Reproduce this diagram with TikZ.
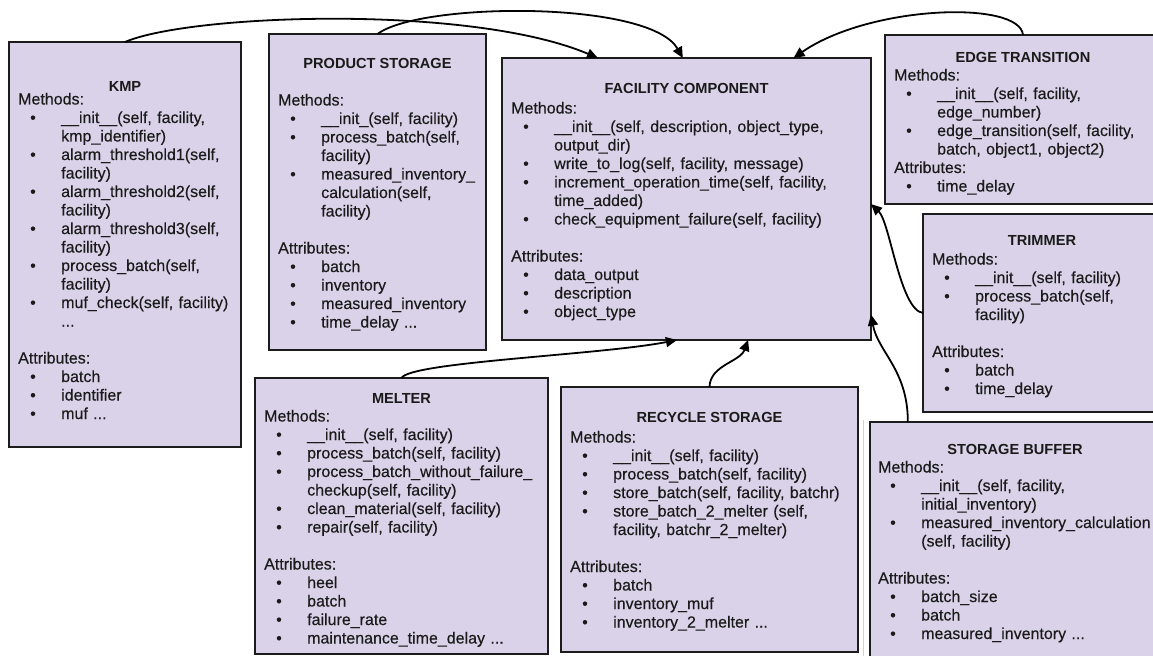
\documentclass[tikz,border=0pt]{standalone}
\usepackage{fontspec}
\setmainfont{Liberation Sans}
\newfontfamily\bodyfont{Liberation Sans}[FakeBold=0.3]
\usetikzlibrary{arrows.meta,calc}
\definecolor{boxfill}{HTML}{D9D2E9}
\definecolor{boxline}{HTML}{1C1C1C}
\definecolor{ink}{HTML}{1A1A1A}

% bullet item and its continuation line
\newcommand\bitem[1]{\hspace*{12bp}\makebox[31bp][l]{\textbullet}#1}
\newcommand\cont[1]{\hspace*{43bp}#1}

\tikzset{
  classbox/.style={draw=boxline, line width=2bp, fill=boxfill, anchor=north west,
    inner sep=0pt, outer sep=0pt},
  classtitle/.style={font=\fontsize{14.6bp}{17bp}\selectfont\bfseries, text=ink,
    inner sep=0pt, anchor=base},
  classbody/.style={font=\bodyfont\fontsize{16bp}{18.5bp}\selectfont, text=ink,
    inner sep=0pt, anchor=base west, text width=330bp, align=left},
  link/.style={draw=black, line width=1.8bp, -{Triangle[length=11bp,width=10bp]}},
}

\begin{document}
\begin{tikzpicture}[x=1bp, y=-1bp]
\useasboundingbox (0,0) rectangle (1153,656);

% class boxes
\node[classbox, minimum width=232bp, minimum height=405bp] (kmp) at (9,42) {};
\node[classbox, minimum width=217bp, minimum height=316bp] (ps) at (269,34) {};
\node[classbox, minimum width=369bp, minimum height=282bp] (fc) at (502,58) {};
\node[classbox, minimum width=276bp, minimum height=169bp] (et) at (885,35) {};
\node[classbox, minimum width=238bp, minimum height=198bp] (tr) at (923,214) {};
\node[classbox, minimum width=293bp, minimum height=276bp] (mel) at (255,378) {};
\node[classbox, minimum width=297bp, minimum height=265bp] (rs) at (561,387) {};
\node[classbox, minimum width=291bp, minimum height=250bp] (sb) at (870,422) {};

\draw[gray!35, line width=0.8bp] (863,420) -- (863,656);

% attachment points on the facility component
\coordinate (fcTopA) at ($(fc.north west)!0.26!(fc.north east)$);
\coordinate (fcTopB) at ($(fc.north west)!0.49!(fc.north east)$);
\coordinate (fcTopC) at ($(fc.north west)!0.79!(fc.north east)$);
\coordinate (fcRightA) at ($(fc.north east)!0.518!(fc.south east)$);
\coordinate (fcRightB) at ($(fc.north east)!0.91!(fc.south east)$);
\coordinate (fcBotA) at ($(fc.south west)!0.474!(fc.south east)$);
\coordinate (fcBotB) at ($(fc.south west)!0.667!(fc.south east)$);
\coordinate (sbTop) at ($(sb.north west)!0.13!(sb.north east)$);

% inheritance links
\draw[link] (kmp.north) .. controls (190,14) and (470,4) .. (fcTopA);
\draw[link] (ps.north) .. controls (420,2) and (650,0) .. (fcTopB);
\draw[link] (et.north) .. controls (1020,0) and (870,5) .. (fcTopC);
\draw[link] (tr.west) .. controls (900,310) and (890,222) .. (fcRightA);
\draw[link] (sbTop) .. controls (908,370) and (878,352) .. (fcRightB);
\draw[link] (mel.north) .. controls (410,362) and (600,355) .. (fcBotA);
\draw[link] (rs.north) .. controls (710,365) and (740,362) .. (fcBotB);

% KMP
\node[classtitle] (kmpT) at (125,91.5) {KMP};
\node[classbody] (kmpB) at (18,104.5) {Methods:\\
\bitem{\_\_init\_\_(self, facility,}\\
\cont{kmp\_identifier)}\\
\bitem{alarm\_threshold1(self,}\\
\cont{facility)}\\
\bitem{alarm\_threshold2(self,}\\
\cont{facility)}\\
\bitem{alarm\_threshold3(self,}\\
\cont{facility)}\\
\bitem{process\_batch(self,}\\
\cont{facility)}\\
\bitem{muf\_check(self, facility)}\\
\cont{...}\\
\mbox{}\\
Attributes:\\
\bitem{batch}\\
\bitem{identifier}\\
\bitem{muf ...}};

% product storage
\node[classtitle] (psT) at (377.5,68.5) {PRODUCT STORAGE};
\node[classbody] (psB) at (278,105.5) {Methods:\\
\bitem{\_\_init\_(self, facility)}\\
\bitem{process\_batch(self,}\\
\cont{facility)}\\
\bitem{measured\_inventory\_}\\
\cont{calculation(self,}\\
\cont{facility)}\\
\mbox{}\\
Attributes:\\
\bitem{batch}\\
\bitem{inventory}\\
\bitem{measured\_inventory}\\
\bitem{time\_delay ...}};

% facility component
\node[classtitle] (fcT) at (686.5,93.5) {FACILITY COMPONENT};
\node[classbody] (fcB) at (511,113.5) {Methods:\\
\bitem{\_\_init\_\_(self, description, object\_type,}\\
\cont{output\_dir)}\\
\bitem{write\_to\_log(self, facility, message)}\\
\bitem{increment\_operation\_time(self, facility,}\\
\cont{time\_added)}\\
\bitem{check\_equipment\_failure(self, facility)}\\
\mbox{}\\
Attributes:\\
\bitem{data\_output}\\
\bitem{description}\\
\bitem{object\_type}};

% edge transition
\node[classtitle] (etT) at (1023,62.5) {EDGE TRANSITION};
\node[classbody] (etB) at (894,80.5) {Methods:\\
\bitem{\_\_init\_\_(self, facility,}\\
\cont{edge\_number)}\\
\bitem{edge\_transition(self, facility,}\\
\cont{batch, object1, object2)}\\
Attributes:\\
\bitem{time\_delay}};

% trimmer
\node[classtitle] (trT) at (1042,245.5) {TRIMMER};
\node[classbody] (trB) at (932,264.5) {Methods:\\
\bitem{\_\_init\_\_(self, facility)}\\
\bitem{process\_batch(self,}\\
\cont{facility)}\\
\mbox{}\\
Attributes:\\
\bitem{batch}\\
\bitem{time\_delay}};

% melter
\node[classtitle] (melT) at (401.5,403.5) {MELTER};
\node[classbody] (melB) at (264,421.5) {Methods:\\
\bitem{\_\_init\_\_(self, facility)}\\
\bitem{process\_batch(self, facility)}\\
\bitem{process\_batch\_without\_failure\_}\\
\cont{checkup(self, facility)}\\
\bitem{clean\_material(self, facility)}\\
\bitem{repair(self, facility)}\\
\mbox{}\\
Attributes:\\
\bitem{heel}\\
\bitem{batch}\\
\bitem{failure\_rate}\\
\bitem{maintenance\_time\_delay ...}};

% recycle storage
\node[classtitle] (rsT) at (709.5,422.5) {RECYCLE STORAGE};
\node[classbody] (rsB) at (570,442.5) {Methods:\\
\bitem{\_\_init\_\_(self, facility)}\\
\bitem{process\_batch(self, facility)}\\
\bitem{store\_batch(self, facility, batchr)}\\
\bitem{store\_batch\_2\_melter (self,}\\
\cont{facility, batchr\_2\_melter)}\\
\mbox{}\\
Attributes:\\
\bitem{batch}\\
\bitem{inventory\_muf}\\
\bitem{inventory\_2\_melter ...}};

% storage buffer
\node[classtitle] (sbT) at (1015,454.5) {STORAGE BUFFER};
\node[classbody] (sbB) at (878,472.5) {Methods:\\
\bitem{\_\_init\_\_(self, facility,}\\
\cont{initial\_inventory)}\\
\bitem{measured\_inventory\_calculation}\\
\cont{(self, facility)}\\
\mbox{}\\
Attributes:\\
\bitem{batch\_size}\\
\bitem{batch}\\
\bitem{measured\_inventory ...}};
\end{tikzpicture}
\end{document}
